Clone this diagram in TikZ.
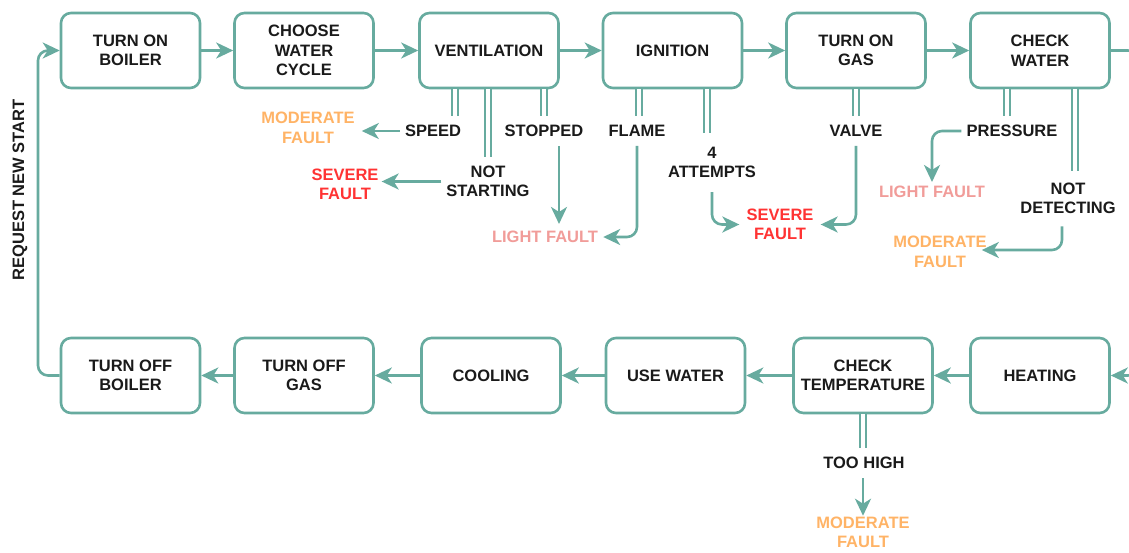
\documentclass[tikz,border=0pt]{standalone}
\usepackage{fontspec}
\setmainfont{Liberation Sans}
\usetikzlibrary{arrows.meta}
\definecolor{tealline}{HTML}{67AB9F}
\definecolor{modc}{HTML}{FFB366}
\definecolor{sevc}{HTML}{FF3333}
\definecolor{ligc}{HTML}{F19C99}
\definecolor{txtc}{HTML}{1A1A1A}
\begin{document}
\begin{tikzpicture}[x=1pt,y=-1pt,
 every node/.style={font=\fontsize{16.5}{19.5}\selectfont\bfseries, text=txtc, align=center},
 box/.style={draw=tealline, line width=2.6pt, rounded corners=10pt, minimum width=139pt, minimum height=75pt, inner sep=2pt},
 lbl/.style={inner xsep=5pt, inner ysep=9pt},
 fault/.style={inner sep=7pt},
 modf/.style={fault, text=modc},
 sevf/.style={fault, text=sevc},
 ligf/.style={fault, text=ligc},
 arr/.style={draw=tealline, line width=2.6pt, -{Stealth[length=17pt,width=16pt,inset=5pt]}},
 dbl/.style={draw=tealline, line width=2pt, double=white, double distance=4.5pt},
]
\useasboundingbox (0,0) rectangle (1129,552);
\clip (0,0) rectangle (1129,552);

% top row
\node[box] (tob) at (130.5,50.5) {TURN ON\\BOILER};
\node[box] (cwc) at (304,50.5) {CHOOSE\\WATER\\CYCLE};
\node[box] (ven) at (489,50.5) {VENTILATION};
\node[box] (ign) at (672.5,50.5) {IGNITION};
\node[box] (gas) at (856,50.5) {TURN ON\\GAS};
\node[box] (cw) at (1040,50.5) {CHECK\\WATER};

% bottom row
\node[box] (tfb) at (130.5,375.5) {TURN OFF\\BOILER};
\node[box] (tfg) at (304,375.5) {TURN OFF\\GAS};
\node[box] (cool) at (491,375.5) {COOLING};
\node[box] (usew) at (675.5,375.5) {USE WATER};
\node[box] (ct) at (863,375.5) {CHECK\\TEMPERATURE};
\node[box] (heat) at (1040,375.5) {HEATING};

% request new start label
\node[rotate=90] (req) at (20,190) {REQUEST NEW START};

% condition labels
\node[lbl] (speed) at (433,131) {SPEED};
\node[lbl] (notst) at (488,181.5) {NOT\\STARTING};
\node[lbl] (stopped) at (544,131) {STOPPED};
\node[lbl] (flame) at (637,131) {FLAME};
\node[lbl, inner ysep=14pt] (attempts) at (712,162.5) {4\\ATTEMPTS};
\node[lbl] (valve) at (856,131) {VALVE};
\node[lbl] (pressure) at (1012,131) {PRESSURE};
\node[lbl, inner ysep=12pt] (notdet) at (1068,198.5) {NOT\\DETECTING};
\node[lbl] (toohigh) at (864,463) {TOO HIGH};

% fault labels
\node[modf] (mf1) at (308,128) {MODERATE\\FAULT};
\node[sevf] (sf1) at (345,184.5) {SEVERE\\FAULT};
\node[ligf] (lf1) at (545,237) {LIGHT FAULT};
\node[sevf] (sf2) at (780,224.5) {SEVERE\\FAULT};
\node[ligf] (lf2) at (932,192) {LIGHT FAULT};
\node[modf] (mf2) at (940,252) {MODERATE\\FAULT};
\node[modf] (mf3) at (863,532.5) {MODERATE\\FAULT};

% main flow
\draw[arr] (tob.east) -- (cwc.west);
\draw[arr] (cwc.east) -- (ven.west);
\draw[arr] (ven.east) -- (ign.west);
\draw[arr] (ign.east) -- (gas.west);
\draw[arr] (gas.east) -- (cw.west);
\draw[arr, rounded corners=12pt] (cw.east) -- (1140,50.5) -- (1140,375.5) -- (heat.east);
\draw[arr] (heat.west) -- (ct.east);
\draw[arr] (ct.west) -- (usew.east);
\draw[arr] (usew.west) -- (cool.east);
\draw[arr] (cool.west) -- (tfg.east);
\draw[arr] (tfg.west) -- (tfb.east);
\draw[arr, rounded corners=10pt] (tfb.west) -- (38,375.5) -- (38,50.5) -- (tob.west);

% double stubs
\draw[dbl] (ven.south -| 455,0) -- (speed.north -| 455,0);
\draw[dbl] (ven.south -| notst.north) -- (notst.north);
\draw[dbl] (ven.south -| stopped.north) -- (stopped.north);
\draw[dbl] (ign.south -| 639,0) -- (flame.north -| 639,0);
\draw[dbl] (ign.south -| 707,0) -- (attempts.north -| 707,0);
\draw[dbl] (gas.south) -- (gas.south |- valve.north);
\draw[dbl] (cw.south -| 1007,0) -- (pressure.north -| 1007,0);
\draw[dbl] (cw.south -| 1075,0) -- (notdet.north -| 1075,0);
\draw[dbl] (ct.south) -- (ct.south |- toohigh.north);

% fault arrows
\draw[arr] (speed.west) -- (speed.west -| mf1.east);
\draw[arr, shorten >=-4pt] (notst.west) -- (notst.west -| sf1.east);
\draw[arr] (stopped.south -| 559,0) -- (lf1.north -| 559,0);
\draw[arr, rounded corners=10pt, shorten >=-2pt] (flame.south) -- (flame.south |- lf1.east) -- (lf1.east);
\draw[arr, rounded corners=10pt] (attempts.south) -- (attempts.south |- sf2.west) -- (sf2.west);
\draw[arr, rounded corners=10pt] (valve.south) -- (valve.south |- sf2.east) -- (sf2.east);
\draw[arr, rounded corners=10pt, shorten >=-3pt] (pressure.west) -- (pressure.west -| lf2.north) -- (lf2.north);
\draw[arr, rounded corners=10pt, shorten >=-12pt] (notdet.south -| 1062,0) -- (1062,250) -- (250,250 -| mf2.east);
\draw[arr, shorten >=-6pt] (ct.south |- toohigh.south) -- (ct.south |- mf3.north);
\end{tikzpicture}
\end{document}
